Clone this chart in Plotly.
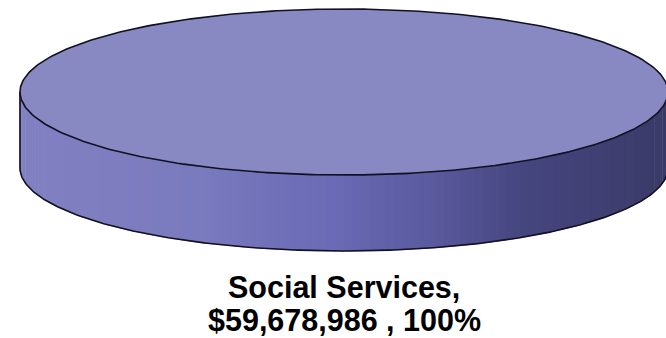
import numpy as np
import plotly.graph_objects as go

# ---- data ----
labels = ["Social Services"]
values = [59678986]

total = sum(values)
shares = [v / total for v in values]

# ---- geometry (pixel space of a 666x338 canvas) ----
W, H = 666, 338
cx, cy = 344, 92
rx, ry = 324, 83
depth = 76

top_color = "rgb(136,136,194)"
side_stops = [  # (x position, rgb)
    (20, (128, 128, 194)),
    (200, (122, 122, 190)),
    (330, (106, 106, 182)),
    (420, (92, 92, 162)),
    (520, (70, 70, 128)),
    (668, (58, 58, 104)),
]


def side_color(x):
    xs = [s[0] for s in side_stops]
    cols = np.array([s[1] for s in side_stops], dtype=float)
    c = [np.interp(x, xs, cols[:, i]) for i in range(3)]
    return "rgb(%d,%d,%d)" % tuple(int(round(v)) for v in c)


fig = go.Figure()

start = 0.0
for lab, sh in zip(labels, shares):
    span = 2 * np.pi * sh
    # side wall: only the front half (angles in [0, pi]) is visible
    a0, a1 = max(start, 0.0), min(start + span, np.pi)
    n = 120
    edges = np.linspace(a0, a1, n + 1)
    for i in range(n):
        t = np.linspace(edges[i], edges[i + 1] + 0.004, 4)
        xt = cx + rx * np.cos(t)
        yt = cy + ry * np.sin(t)
        xs = np.concatenate([xt, xt[::-1]])
        ys = np.concatenate([yt, (yt + depth)[::-1]])
        col = side_color(xt.mean())
        fig.add_trace(go.Scatter(x=xs, y=ys, mode="lines", fill="toself",
                                 fillcolor=col, line=dict(width=0.6, color=col),
                                 hoverinfo="skip", showlegend=False))
    # side outline: bottom arc + vertical edges
    t = np.linspace(a0, a1, 300)
    bx = cx + rx * np.cos(t)
    by = cy + ry * np.sin(t) + depth
    ox = np.concatenate([[bx[0]], bx, [bx[-1]]])
    oy = np.concatenate([[by[0] - depth], by, [by[-1] - depth]])
    fig.add_trace(go.Scatter(x=ox, y=oy, mode="lines",
                             line=dict(color="#111122", width=1.6),
                             hoverinfo="skip", showlegend=False))
    # top face
    t = np.linspace(start, start + span, 400)
    tx = np.concatenate([[cx] if sh < 1 else [], cx + rx * np.cos(t)])
    ty = np.concatenate([[cy] if sh < 1 else [], cy + ry * np.sin(t)])
    fig.add_trace(go.Scatter(x=tx, y=ty, mode="lines", fill="toself",
                             fillcolor=top_color,
                             line=dict(color="#111122", width=1.6),
                             hoverinfo="skip", showlegend=False))

    # label
    fig.add_annotation(x=cx, y=287, xref="x", yref="y", text=f"<b>{lab},</b>",
                       showarrow=False, yanchor="middle",
                       font=dict(family="Liberation Sans, Arial, sans-serif", size=30.5, color="black"))
    fig.add_annotation(x=cx, y=320, xref="x", yref="y",
                       text=f"<b>${values[0]:,} , {round(sh * 100)}%</b>",
                       showarrow=False, yanchor="middle",
                       font=dict(family="Liberation Sans, Arial, sans-serif", size=30.5, color="black"))
    start += span

fig.update_xaxes(range=[0, W], visible=False, fixedrange=True)
fig.update_yaxes(range=[H, 0], visible=False, fixedrange=True)
fig.update_layout(width=W, height=H, margin=dict(l=0, r=0, t=0, b=0),
                  paper_bgcolor="white", plot_bgcolor="white")
fig.write_html("out.html")
